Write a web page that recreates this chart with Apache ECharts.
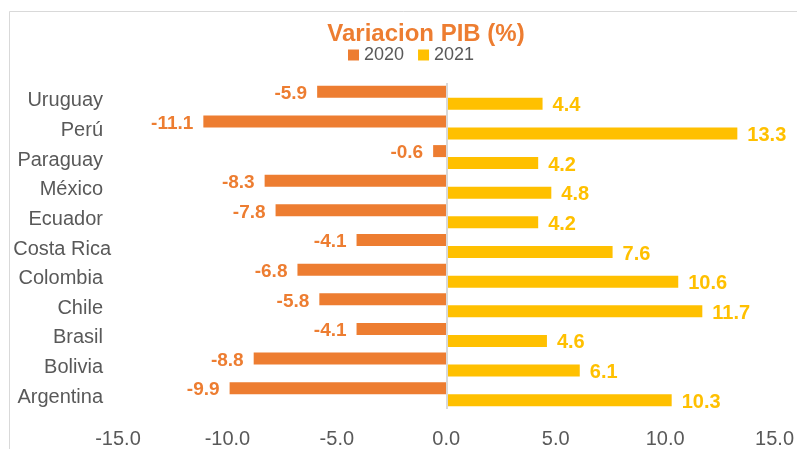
<!DOCTYPE html>
<html>
<head>
<meta charset="utf-8">
<script src="https://cdn.jsdelivr.net/npm/echarts@6/dist/echarts.min.js"></script>
<style>html,body{margin:0;padding:0;background:#fff}#c{width:797px;height:449px}</style>
</head>
<body>
<div id="c"></div>
<script>
var categories = ['Argentina','Bolivia','Brasil','Chile','Colombia','Costa Rica','Ecuador','México','Paraguay','Perú','Uruguay'];
var values2020 = [-9.9,-8.8,-4.1,-5.8,-6.8,-4.1,-7.8,-8.3,-0.6,-11.1,-5.9];
var values2021 = [10.3,6.1,4.6,11.7,10.6,7.6,4.2,4.8,4.2,13.3,4.4];
var seriesNames = ['2020','2021'];
var xTicks = [-15,-10,-5,0,5,10,15];

var FONT = '"Liberation Sans", Arial, sans-serif';
var chart = echarts.init(document.getElementById('c'), null, {renderer:'canvas'});
chart.setOption({
  animation: false,
  backgroundColor: '#fff',
  textStyle: {fontFamily: FONT},
  graphic: [{
    type: 'rect', silent: true, z: -1,
    shape: {x: 9.5, y: 11.5, width: 1000, height: 1000},
    style: {fill: 'none', stroke: '#d9d9d9', lineWidth: 1}
  }],
  title: {
    text: 'Variacion PIB (%)',
    left: 421, top: 17, textAlign: 'center',
    textStyle: {color: '#ED7D31', fontSize: 24, fontWeight: 'bold', fontFamily: FONT}
  },
  legend: {
    data: seriesNames,
    left: 343, top: 41, itemWidth: 11, itemHeight: 11, itemGap: 14,
    icon: 'rect',
    textStyle: {color: '#595959', fontSize: 18, fontFamily: FONT}
  },
  grid: {left: 118, right: 20, top: 83, bottom: 34, containLabel: false},
  xAxis: {
    type: 'value', min: xTicks[0], max: xTicks[xTicks.length-1], interval: 5,
    axisLine: {show: false}, axisTick: {show: false}, splitLine: {show: false},
    axisLabel: {color: '#595959', fontSize: 20, fontFamily: FONT, margin: 20,
      formatter: function(v){ return v.toFixed(1); }}
  },
  yAxis: {
    type: 'category', data: categories,
    axisLine: {show: false}, axisTick: {show: false},
    axisLabel: {margin: 7,
      formatter: function(v){ return (v === 'Costa Rica' ? '{b|' : '{a|') + v + '}'; },
      rich: {
        a: {color: '#595959', fontSize: 20, fontFamily: FONT, padding: [6,8,0,0]},
        b: {color: '#595959', fontSize: 20, fontFamily: FONT, padding: [6,0,0,0]}
      }}
  },
  series: [{
    name: seriesNames[0], type: 'bar', data: values2020, barWidth: 12, barGap: '0%',
    itemStyle: {color: '#ED7D31'},
    label: {show: true, position: 'left', distance: 10, offset: [0, 2], color: '#ED7D31', fontSize: 19, fontWeight: 'bold', fontFamily: FONT,
      formatter: function(p){ return p.value.toFixed(1); }},
    markLine: {silent: true, symbol: 'none', label: {show: false},
      lineStyle: {color: '#d9d9d9', type: 'solid', width: 2},
      data: [{xAxis: 0}]}
  }, {
    name: seriesNames[1], type: 'bar', data: values2021, barWidth: 12, barGap: '0%',
    itemStyle: {color: '#FFC000'},
    label: {show: true, position: 'right', distance: 10, offset: [0, 2], color: '#FFC000', fontSize: 20, fontWeight: 'bold', fontFamily: FONT,
      formatter: function(p){ return p.value.toFixed(1); }}
  }]
});
</script>
</body>
</html>
